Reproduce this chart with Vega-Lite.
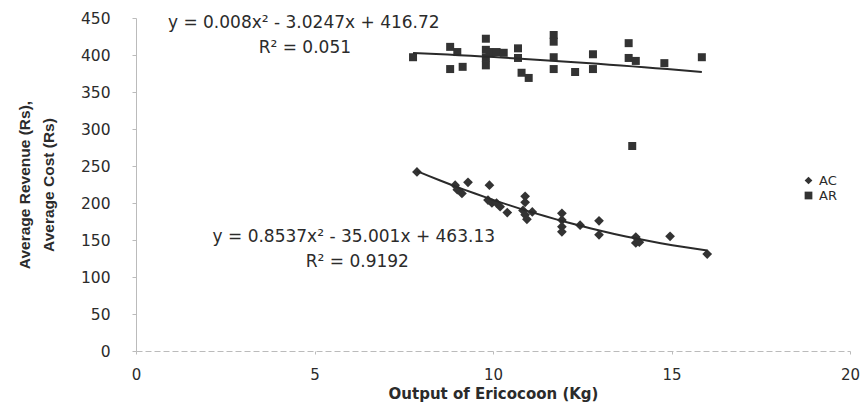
{
  "$schema": "https://vega.github.io/schema/vega-lite/v6.json",
  "width": 714,
  "height": 333,
  "autosize": {"type": "none"},
  "padding": {"left": 136, "top": 18, "right": 17, "bottom": 53},
  "background": "white",
  "config": {
    "view": {"stroke": null},
    "font": "DejaVu Sans",
    "axis": {"labelFont": "DejaVu Sans", "titleFont": "DejaVu Sans", "labelColor": "#2b2b2b", "titleColor": "#2b2b2b", "grid": false, "labelOverlap": false}
  },
  "datasets": {
    "points": [
      {"series": "AR", "x": 7.76, "y": 397},
      {"series": "AR", "x": 8.8, "y": 411},
      {"series": "AR", "x": 9.0, "y": 404},
      {"series": "AR", "x": 8.8, "y": 381},
      {"series": "AR", "x": 9.15, "y": 384},
      {"series": "AR", "x": 9.8, "y": 422},
      {"series": "AR", "x": 9.8, "y": 407},
      {"series": "AR", "x": 9.9, "y": 404},
      {"series": "AR", "x": 10.1, "y": 404},
      {"series": "AR", "x": 10.3, "y": 403},
      {"series": "AR", "x": 9.8, "y": 396},
      {"series": "AR", "x": 9.8, "y": 386},
      {"series": "AR", "x": 10.7, "y": 409},
      {"series": "AR", "x": 10.7, "y": 396},
      {"series": "AR", "x": 10.8, "y": 376},
      {"series": "AR", "x": 11.0, "y": 369},
      {"series": "AR", "x": 11.7, "y": 427},
      {"series": "AR", "x": 11.7, "y": 418},
      {"series": "AR", "x": 11.7, "y": 397},
      {"series": "AR", "x": 11.7, "y": 381},
      {"series": "AR", "x": 12.3, "y": 377},
      {"series": "AR", "x": 12.8, "y": 401},
      {"series": "AR", "x": 12.8, "y": 381},
      {"series": "AR", "x": 13.8, "y": 416},
      {"series": "AR", "x": 13.8, "y": 396},
      {"series": "AR", "x": 14.0, "y": 392},
      {"series": "AR", "x": 14.8, "y": 389},
      {"series": "AR", "x": 15.85, "y": 397},
      {"series": "AR", "x": 13.9, "y": 277},
      {"series": "AC", "x": 7.87, "y": 242},
      {"series": "AC", "x": 8.94, "y": 224},
      {"series": "AC", "x": 9.0, "y": 218},
      {"series": "AC", "x": 9.13, "y": 213},
      {"series": "AC", "x": 9.3, "y": 228},
      {"series": "AC", "x": 9.9, "y": 224},
      {"series": "AC", "x": 9.86, "y": 204},
      {"series": "AC", "x": 9.97, "y": 200},
      {"series": "AC", "x": 10.1, "y": 200},
      {"series": "AC", "x": 10.2, "y": 195},
      {"series": "AC", "x": 10.4, "y": 187},
      {"series": "AC", "x": 10.9, "y": 209},
      {"series": "AC", "x": 10.9, "y": 201},
      {"series": "AC", "x": 10.84, "y": 190},
      {"series": "AC", "x": 10.9, "y": 184},
      {"series": "AC", "x": 10.95, "y": 178},
      {"series": "AC", "x": 11.1, "y": 188},
      {"series": "AC", "x": 11.93, "y": 186},
      {"series": "AC", "x": 11.93, "y": 177},
      {"series": "AC", "x": 11.93, "y": 168},
      {"series": "AC", "x": 11.93, "y": 161},
      {"series": "AC", "x": 12.44, "y": 170},
      {"series": "AC", "x": 12.97, "y": 176},
      {"series": "AC", "x": 12.97, "y": 157},
      {"series": "AC", "x": 14.0, "y": 154},
      {"series": "AC", "x": 14.0, "y": 146},
      {"series": "AC", "x": 14.1, "y": 147},
      {"series": "AC", "x": 14.96, "y": 155},
      {"series": "AC", "x": 16.0, "y": 131}
    ],
    "notes": [
      {"x": 4.7, "y": 443, "label": "y = 0.008x² - 3.0247x + 416.72"},
      {"x": 4.73, "y": 410, "label": "R² = 0.051"},
      {"x": 6.1, "y": 154, "label": "y = 0.8537x² - 35.001x + 463.13"},
      {"x": 6.2, "y": 120, "label": "R² = 0.9192"}
    ]
  },
  "encoding": {
    "x": {
      "field": "x", "type": "quantitative",
      "scale": {"domain": [0, 20], "nice": false},
      "axis": {"values": [0, 5, 10, 15, 20], "title": "Output of Ericocoon (Kg)", "titleFontSize": 15, "titleFontWeight": "bold", "labelFontSize": 15, "domainColor": "#bbbbbb", "domainDash": [6, 3], "tickColor": "#bbbbbb", "tickSize": 3, "labelPadding": 13, "titlePadding": 4, "labelFlush": false}
    },
    "y": {
      "field": "y", "type": "quantitative",
      "scale": {"domain": [0, 450], "nice": false},
      "axis": {"values": [0, 50, 100, 150, 200, 250, 300, 350, 400, 450], "title": ["Average Revenue (Rs),", "Average Cost (Rs)"], "titleFont": "Liberation Sans", "titleFontSize": 15.5, "titleFontWeight": "bold", "labelFontSize": 15.5, "domainColor": "#bbbbbb", "tickColor": "#bbbbbb", "tickSize": 4, "labelPadding": 22, "titlePadding": 24, "titleLineHeight": 24}
    }
  },
  "layer": [
    {
      "data": {"name": "points"},
      "transform": [{"filter": "datum.series === 'AC'"}],
      "mark": {"type": "point", "filled": true, "opacity": 1, "color": "#333333", "size": 95},
      "encoding": {
        "shape": {
          "field": "series", "type": "nominal",
          "scale": {"domain": ["AC", "AR"], "range": ["diamond", "square"]},
          "legend": {"title": null, "orient": "none", "legendX": 666, "legendY": 156, "labelFont": "DejaVu Sans", "labelFontSize": 13, "labelColor": "#2b2b2b", "symbolSize": 60, "symbolFillColor": "#333333", "symbolStrokeColor": "#333333", "rowPadding": 0, "labelOffset": 4}
        }
      }
    },
    {
      "data": {"name": "points"},
      "transform": [{"filter": "datum.series === 'AR'"}],
      "mark": {"type": "point", "filled": true, "opacity": 1, "color": "#333333", "size": 64},
      "encoding": {
        "shape": {"field": "series", "type": "nominal"}
      }
    },
    {
      "data": {"name": "points"},
      "transform": [{"regression": "y", "on": "x", "groupby": ["series"], "method": "poly", "order": 2}],
      "mark": {"type": "line", "color": "#2a2a2a", "strokeWidth": 2},
      "encoding": {
        "detail": {"field": "series"}
      }
    },
    {
      "data": {"name": "notes"},
      "mark": {"type": "text", "fontSize": 17, "color": "#2b2b2b", "font": "DejaVu Sans"},
      "encoding": {
        "text": {"field": "label"}
      }
    }
  ]
}
